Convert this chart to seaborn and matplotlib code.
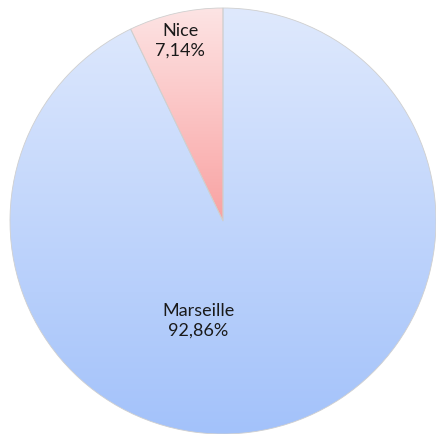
import numpy as np
import matplotlib
matplotlib.use("Agg")
import matplotlib.pyplot as plt
from matplotlib.colors import LinearSegmentedColormap
import seaborn as sns

categories = ["Marseille", "Nice"]
values = [92.86, 7.14]
top_colors = ["#dfe9fd", "#fde4e4"]
bottom_colors = ["#a3c2fa", "#f9a2a2"]

sns.set_theme(style="white")
plt.rcParams["font.family"] = ["Lato", "DejaVu Sans"]

W, H = 436, 435
fig = plt.figure(figsize=(W / 100, H / 100), dpi=100)
ax = fig.add_axes([0, 0, 1, 1])

cx, cy, r = 223, H - 222, 213
wedges, _ = ax.pie(values, startangle=90, counterclock=False, center=(cx, cy),
                   radius=r, frame=True,
                   wedgeprops=dict(edgecolor="#cfcfcf", linewidth=0.6))
ax.set_aspect("equal")
ax.axis("off")

for w, tc, bc in zip(wedges, top_colors, bottom_colors):
    w.set_facecolor("none")
    bb = w.get_path().get_extents(w.get_transform() + ax.transData.inverted())
    y0, y1 = bb.y0, bb.y1
    cmap = LinearSegmentedColormap.from_list("g", [bc, tc])
    grad = np.linspace(0, 1, 256).reshape(-1, 1)
    im = ax.imshow(grad, cmap=cmap, origin="lower", aspect="auto",
                   extent=(cx - r - 2, cx + r + 2, y0, y1), zorder=0.5)
    im.set_clip_path(w)

ax.set_xlim(0, W)
ax.set_ylim(0, H)

label_pos = {"Nice": (180, H - 41), "Marseille": (198, H - 321)}
for c, v in zip(categories, values):
    x, y = label_pos[c]
    ax.text(x, y, f"{c}\n{v:.2f}%".replace(".", ","), ha="center", va="center",
            fontsize=13, color="#1a1a1a", linespacing=1.25, zorder=3)

fig.savefig("out.png", dpi=100, facecolor="white")
